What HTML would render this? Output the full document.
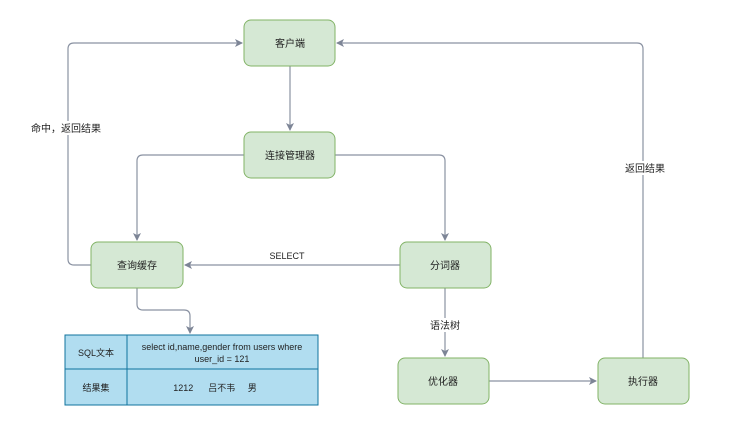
<!DOCTYPE html>
<html><head><meta charset="utf-8"><style>
body{margin:0;background:#fff;}
svg text{font-family:"Liberation Sans","Noto Sans CJK SC",sans-serif;font-size:10px;fill:#222;}
</style></head><body>
<svg width="732" height="433" viewBox="0 0 732 433" xmlns="http://www.w3.org/2000/svg">
<defs><marker id="a" markerWidth="8" markerHeight="8" refX="7" refY="4" orient="auto" markerUnits="userSpaceOnUse"><path d="M0,0 L8,4 L0,8 L2,4 Z" fill="#7d8596"/></marker></defs>
<g fill="none" stroke="#8a92a2" stroke-width="1.2">
<path d="M290,66 V130" marker-end="url(#a)"/>
<path d="M244,155 H143 Q137,155 137,161 V240" marker-end="url(#a)"/>
<path d="M335,155 H439 Q445,155 445,161 V240" marker-end="url(#a)"/>
<path d="M91,265 H74 Q68,265 68,259 V49 Q68,43 74,43 H242" marker-end="url(#a)"/>
<path d="M400,265 H185" marker-end="url(#a)"/>
<path d="M445,288 V356" marker-end="url(#a)"/>
<path d="M489,381 H596" marker-end="url(#a)"/>
<path d="M643,358 V49 Q643,43 637,43 H337" marker-end="url(#a)"/>
<path d="M137,288 V304 Q137,310 143,310 H184 Q190,310 190,316 V333" marker-end="url(#a)"/>
</g>
<g fill="#fff">
<rect x="30" y="121" width="72" height="14"/>
<rect x="622" y="161" width="46" height="14"/>
<rect x="428" y="318" width="34" height="14"/>
</g>
<g fill="#d5e8d4" stroke="#82b366" stroke-width="1">
<rect x="244" y="20" width="91" height="46" rx="7"/>
<rect x="244" y="132" width="91" height="46" rx="7"/>
<rect x="91" y="242" width="92" height="46" rx="7"/>
<rect x="400" y="242" width="91" height="46" rx="7"/>
<rect x="398" y="358" width="91" height="46" rx="7"/>
<rect x="598" y="358" width="91" height="46" rx="7"/>
</g>
<g text-anchor="middle">
<text x="290" y="47">客户端</text>
<text x="290" y="159">连接管理器</text>
<text x="137" y="269">查询缓存</text>
<text x="445" y="269">分词器</text>
<text x="443" y="385">优化器</text>
<text x="643" y="385">执行器</text>
<text x="287" y="259" style="font-size:9px">SELECT</text>
<text x="445" y="329">语法树</text>
<text x="645" y="172">返回结果</text>
<text x="66" y="132">命中，返回结果</text>
</g>
<g fill="#b1ddf0" stroke="#10739e" stroke-width="1">
<rect x="65" y="335" width="253" height="70"/>
</g>
<path d="M127,335 V405 M65,369 H318" stroke="#10739e" stroke-width="1"/>
<g text-anchor="middle" style="font-size:9px">
<text x="96" y="356" style="font-size:9px">SQL文本</text>
<text x="222" y="350" style="font-size:9px">select id,name,gender from users where</text>
<text x="222" y="362" style="font-size:9px">user_id = 121</text>
<text x="96" y="391" style="font-size:9px">结果集</text>
<text x="215" y="391" style="font-size:9px" xml:space="preserve">1212      吕不韦     男</text>
</g>
</svg>
</body></html>
